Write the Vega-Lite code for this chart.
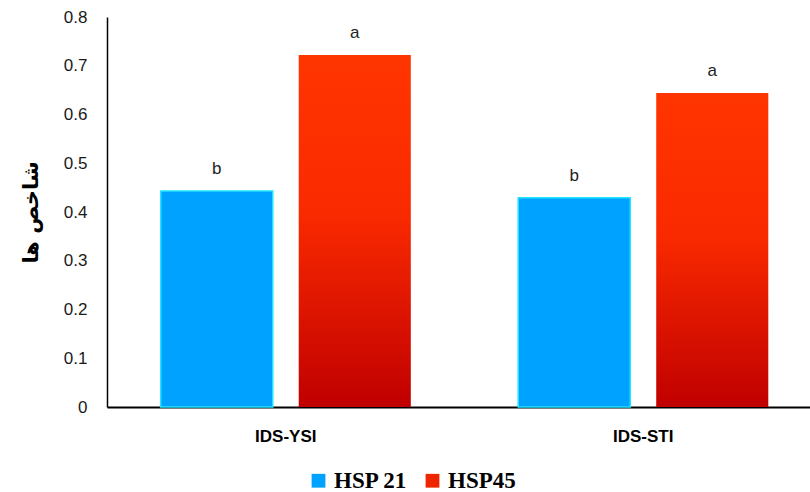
{
  "$schema": "https://vega.github.io/schema/vega-lite/v6.json",
  "width": 703,
  "height": 390,
  "autosize": {"type": "none"},
  "padding": {"left": 107, "top": 17, "right": 0, "bottom": 85},
  "background": "white",
  "data": {
    "values": [
      {"index": "IDS-YSI", "gene": "HSP 21", "value": 0.443, "letter": "b"},
      {"index": "IDS-YSI", "gene": "HSP45", "value": 0.722, "letter": "a"},
      {"index": "IDS-STI", "gene": "HSP 21", "value": 0.429, "letter": "b"},
      {"index": "IDS-STI", "gene": "HSP45", "value": 0.644, "letter": "a"}
    ]
  },
  "config": {"view": {"stroke": null}},
  "encoding": {
    "x": {
      "field": "index", "type": "nominal", "sort": ["IDS-YSI", "IDS-STI"],
      "scale": {"paddingInner": 0, "paddingOuter": 0, "range": [0, 715]},
      "axis": {
        "title": null, "labelAngle": 0, "ticks": false, "domainColor": "#000000", "domainWidth": 2,
        "labelFont": "Liberation Sans", "labelFontSize": 17, "labelFontWeight": "bold",
        "labelColor": "#000000", "labelPadding": 21
      }
    },
    "xOffset": {
      "field": "gene", "type": "nominal", "sort": ["HSP 21", "HSP45"],
      "scale": {"paddingInner": 0.188, "paddingOuter": 0.389}
    },
    "y": {
      "field": "value", "type": "quantitative",
      "scale": {"domain": [0, 0.8]},
      "axis": {
        "values": [0, 0.1, 0.2, 0.3, 0.4, 0.5, 0.6, 0.7, 0.8],
        "format": "~g", "grid": false, "ticks": false,
        "domainColor": "#000000", "domainWidth": 1.5,
        "labelFont": "Liberation Sans", "labelFontSize": 17, "labelColor": "#1a1a1a", "labelPadding": 20,
        "title": "شاخص ها", "titleFont": "DejaVu Sans", "titleFontSize": 21, "titleFontWeight": "bold",
        "titleColor": "#000000", "titlePadding": 22
      }
    }
  },
  "layer": [
    {
      "transform": [{"filter": "datum.gene === 'HSP 21'"}],
      "mark": {"type": "bar", "stroke": "#22E4FF", "strokeWidth": 1.5},
      "encoding": {
        "color": {
          "field": "gene", "type": "nominal",
          "scale": {"domain": ["HSP 21", "HSP45"], "range": ["#00A2FF", "#EE2600"]},
          "legend": {
            "title": null, "orient": "none", "direction": "horizontal",
            "legendX": 200, "legendY": 452,
            "symbolType": "square", "symbolSize": 190, "symbolStrokeWidth": 0,
            "labelFont": "Liberation Serif", "labelFontSize": 23, "labelFontWeight": "bold",
            "labelColor": "#000000", "columnPadding": 13, "labelOffset": 4
          }
        }
      }
    },
    {
      "transform": [{"filter": "datum.gene === 'HSP45'"}],
      "mark": {
        "type": "bar",
        "fill": {
          "gradient": "linear", "x1": 0, "y1": 0, "x2": 0, "y2": 1,
          "stops": [
            {"offset": 0, "color": "#FF3500"},
            {"offset": 0.45, "color": "#FA2A00"},
            {"offset": 1, "color": "#C00000"}
          ]
        }
      },
      "encoding": {}
    },
    {
      "mark": {"type": "text", "dy": -22, "baseline": "middle", "font": "Liberation Sans", "fontSize": 17, "color": "#222222"},
      "encoding": {"text": {"field": "letter"}}
    }
  ]
}
